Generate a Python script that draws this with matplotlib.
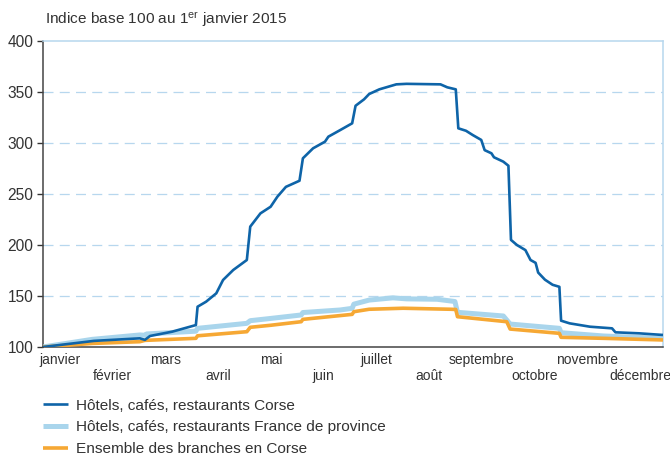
import matplotlib
matplotlib.use("Agg")
import matplotlib.pyplot as plt
import numpy as np

plt.rcParams['font.family'] = ['Liberation Sans', 'DejaVu Sans']
plt.rcParams['mathtext.fontset'] = 'custom'
plt.rcParams['mathtext.rm'] = 'Liberation Sans'
plt.rcParams['mathtext.it'] = 'Liberation Sans'

# ---- data (day of year 2015, index base 100 on 1 Jan 2015) ----
corse_days = [0, 15, 30, 57, 60, 63, 76, 90, 91, 96, 102, 106, 112, 120, 122,
              128, 134, 138, 143, 151, 153, 159, 166, 168, 175, 182, 184, 189,
              192, 198, 208, 214, 234, 238, 243, 244.5, 249, 253, 258, 260, 264,
              265.5, 271, 274, 275.5, 279, 284, 287, 290, 291.5, 295.5, 300,
              304, 305, 310, 322, 335, 337, 351, 365]
corse_vals = [100, 103, 106, 108.5, 107, 110.8, 115, 121.5, 139.5, 144.4, 152.6,
              165.7, 175.5, 185.3, 218, 231, 237.5, 247.4, 257, 263, 285, 294.8,
              301.3, 306.2, 312.7, 319.3, 336.5, 342.8, 348, 352.6, 357.5, 358,
              357.5, 354.6, 352.6, 314.4, 312, 307.8, 303, 293, 289.9, 286, 281.7,
              277.7, 205, 200, 195, 185.3, 182.5, 173, 166, 161, 159, 125.8, 123.2,
              119.9, 118.3, 114.4, 113.4, 111.8]

france_days = [0, 29, 57, 60, 61, 90, 91, 120, 122, 134, 152, 153, 175, 182,
               183, 192, 206, 214, 232, 242.5, 244, 271, 275, 304, 305, 330, 365]
france_vals = [100, 107.5, 111.8, 111.5, 112.8, 115.5, 118.3, 123.2, 125.8, 128,
               131.4, 133.8, 136.3, 137.9, 142, 146, 148.2, 147.2, 146.8, 144.6,
               134, 130.4, 122.5, 118.3, 114, 110.8, 108.5]

ensemble_days = [0, 29, 57, 60, 90, 91, 120, 122, 134, 152, 153, 182, 183, 192,
                 212, 240, 243, 244, 273, 275, 304, 305, 330, 365]
ensemble_vals = [100, 103.5, 105.2, 106.5, 108.5, 111, 115, 119.3, 121.3, 124.8,
                 127.1, 132, 134.6, 137, 138, 137, 136.8, 129.7, 124.8, 117.6,
                 113.4, 109.5, 108.5, 106.9]

months = ['janvier', 'février', 'mars', 'avril', 'mai', 'juin', 'juillet',
          'août', 'septembre', 'octobre', 'novembre', 'décembre']
yticks = [100, 150, 200, 250, 300, 350, 400]
labels = ['Hôtels, cafés, restaurants Corse',
          'Hôtels, cafés, restaurants France de province',
          'Ensemble des branches en Corse']

c_dark = '#0e64a8'
c_light = '#a9d5ec'
c_orange = '#f6a834'
c_grid = '#b7d7ee'
c_text = '#333333'

fig = plt.figure(figsize=(6.7, 4.55), dpi=100)
ax = fig.add_axes([43/670, 1-347/455, 620/670, 306/455])

l2, = ax.plot(france_days, france_vals, color=c_light, lw=3.6, solid_capstyle='butt', zorder=3)
l3, = ax.plot(ensemble_days, ensemble_vals, color=c_orange, lw=2.6, solid_capstyle='butt', zorder=4)
l1, = ax.plot(corse_days, corse_vals, color=c_dark, lw=1.9, solid_capstyle='butt', zorder=5)

ax.set_xlim(0, 365)
ax.set_ylim(100, 400)
ax.set_yticks(yticks)
ax.set_yticklabels([str(v) for v in yticks])
for v in yticks[1:-1]:
    ax.axhline(v, color=c_grid, lw=0.9, ls=(0, (8, 5)), zorder=1)

pos = np.linspace(10, 351.5, 12)
ax.set_xticks(pos[0::2])
ax.set_xticklabels(months[0::2])
ax.set_xticks(pos[1::2], minor=True)
ax.set_xticklabels(months[1::2], minor=True)
ax.tick_params(axis='x', which='major', length=0, pad=4.3, labelsize=10, labelcolor=c_text)
ax.tick_params(axis='x', which='minor', length=0, pad=15.5, labelsize=10, labelcolor=c_text)
ax.tick_params(axis='y', length=4, width=1, color='#333333', pad=3, labelsize=11.2, labelcolor=c_text)

for s in ['left', 'bottom']:
    ax.spines[s].set_color('#444444')
    ax.spines[s].set_linewidth(1.1)
for s in ['top', 'right']:
    ax.spines[s].set_color(c_grid)
    ax.spines[s].set_linewidth(1.1)

fig.text(45/670, 1-20/455, r'Indice base 100 au 1$^{\mathrm{er}}$ janvier 2015',
         fontsize=11.1, color=c_text, va='center', ha='left')

fig.legend([l1, l2, l3], labels, loc='upper left', bbox_to_anchor=(43/670, 1-398.5/455),
           frameon=False, fontsize=11.1, handlelength=1.62, handletextpad=0.52,
           labelspacing=0.5, borderaxespad=0, borderpad=0, labelcolor=c_text)

fig.savefig('out.png', dpi=100)
